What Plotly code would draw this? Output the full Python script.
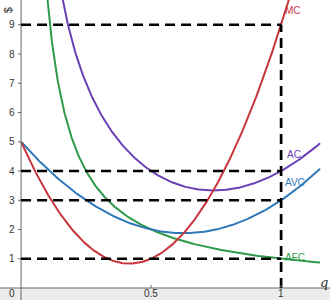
import numpy as np
import plotly.graph_objects as go

# Cost model: FC = 1, VC = 5q - 10q^2 + 8q^3
fixed_cost = 1.0
vc_coeffs = [5.0, -10.0, 8.0]  # AVC = 5 - 10q + 8q^2
q_max = 1.15
ref_levels = [9, 4, 3, 1]
ref_q = 1.0
y_ticks = [1, 2, 3, 4, 5, 6, 7, 8, 9]
x_ticks = [0.5, 1]
x_tick_labels = ["0.5", "1"]

colors = {"MC": "#c8363d", "AC": "#6a40b4", "AVC": "#2f78b9", "AFC": "#2f9a4a"}

q = np.linspace(0.001, q_max, 600)
a0, a1, a2 = vc_coeffs
avc = a0 + a1 * q + a2 * q**2
mc = a0 + 2 * a1 * q + 3 * a2 * q**2
afc = fixed_cost / q
ac = avc + afc

X0, X1 = -0.081, 1.188
Y0, Y1 = -0.41, 9.846

fig = go.Figure()
for name, y in [("AFC", afc), ("AVC", avc), ("AC", ac), ("MC", mc)]:
    fig.add_trace(go.Scatter(x=q, y=y, mode="lines", name=name,
                             line=dict(color=colors[name], width=2),
                             hoverinfo="skip", showlegend=False))

shapes = []
# gray band under x-axis
shapes.append(dict(type="rect", xref="paper", yref="y", x0=0, x1=1, y0=Y0, y1=0,
                   fillcolor="#ececec", line=dict(width=0), layer="below"))
# axes
shapes.append(dict(type="line", xref="x", yref="y", x0=X0, x1=X1, y0=0, y1=0,
                   line=dict(color="#666", width=1)))
shapes.append(dict(type="line", xref="x", yref="y", x0=0, x1=0, y0=Y0, y1=Y1,
                   line=dict(color="#666", width=1)))
# dashed reference lines
for lv in ref_levels:
    shapes.append(dict(type="line", xref="x", yref="y", x0=0, x1=ref_q, y0=lv, y1=lv,
                       line=dict(color="black", width=2.7, dash="10px,6px")))
shapes.append(dict(type="line", xref="x", yref="y", x0=ref_q, x1=ref_q, y0=0, y1=max(ref_levels),
                   line=dict(color="black", width=2.7, dash="10px,6px")))
# tick marks
for t in y_ticks:
    shapes.append(dict(type="line", xref="x", yref="y", x0=-0.012, x1=0, y0=t, y1=t,
                       line=dict(color="#666", width=1)))
for t in x_ticks:
    shapes.append(dict(type="line", xref="x", yref="y", x0=t, x1=t, y0=0, y1=0.1,
                       line=dict(color="#666", width=1)))

ann = []
font = dict(family="Liberation Sans, Arial", size=10, color="#333")
for t in y_ticks:
    ann.append(dict(x=-0.014, y=t, xref="x", yref="y", text=str(t), showarrow=False,
                    xanchor="right", yanchor="middle", font=font))
ann.append(dict(x=-0.014, y=-0.2, xref="x", yref="y", text="0", showarrow=False,
                xanchor="right", yanchor="middle", font=font))
for t, lab in zip(x_ticks, x_tick_labels):
    ann.append(dict(x=t, y=-0.2, xref="x", yref="y", text=lab, showarrow=False,
                    xanchor="center", yanchor="middle", font=font))
ann.append(dict(x=1.165, y=0.2, xref="x", yref="y", text="<i>q</i>", showarrow=False,
                xanchor="center", yanchor="middle",
                font=dict(family="DejaVu Serif", size=13, color="#333")))
ann.append(dict(x=-0.05, y=9.5, xref="x", yref="y", text="$", showarrow=False,
                textangle=-90, xanchor="center", yanchor="middle",
                font=dict(family="Liberation Sans", size=11, color="#333")))
label_pos = {"MC": (1.045, 9.5), "AC": (1.05, 4.58), "AVC": (1.055, 3.6), "AFC": (1.055, 1.06)}
for name, (lx, ly) in label_pos.items():
    ann.append(dict(x=lx, y=ly, xref="x", yref="y", text=name, showarrow=False,
                    xanchor="center", yanchor="middle",
                    font=dict(family="Liberation Sans", size=10, color=colors[name])))

fig.update_layout(
    width=330, height=300, margin=dict(l=0, r=0, t=0, b=0),
    paper_bgcolor="white", plot_bgcolor="white",
    xaxis=dict(range=[X0, X1], visible=False, fixedrange=True),
    yaxis=dict(range=[Y0, Y1], visible=False, fixedrange=True),
    shapes=shapes, annotations=ann,
)
fig.write_html("out.html")
